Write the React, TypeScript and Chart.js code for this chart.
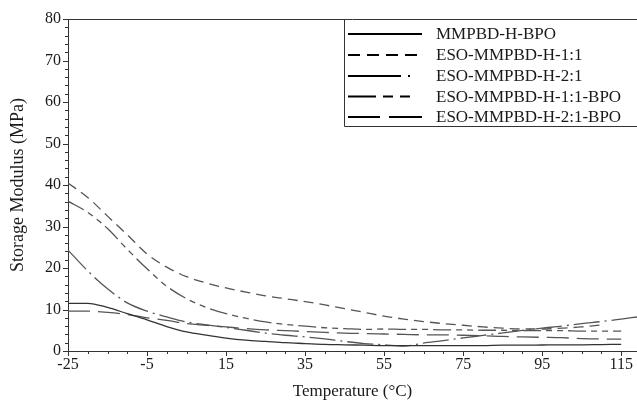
import React, { useEffect, useRef } from "react";
import { Chart, registerables } from "chart.js";

Chart.register(...registerables);

const FONT = "'Liberation Serif', 'Times New Roman', serif";
const INK = "#1a1a1a";

const temps = [-25, -20, -15, -10, -5, 0, 5, 10, 15, 20, 25, 30, 35, 40, 45, 50, 55, 60, 65, 70, 75, 80, 85, 90, 95, 100, 105, 110, 115, 119];

const mmpbdHBpo = [11.5, 11.5, 10.5, 9.0, 7.5, 5.9, 4.6, 3.8, 3.1, 2.6, 2.3, 2.0, 1.8, 1.6, 1.5, 1.4, 1.3, 1.3, 1.3, 1.3, 1.3, 1.3, 1.4, 1.4, 1.45, 1.5, 1.5, 1.55, 1.6, null];
const esoH11 = [40.5, 37.0, 32.5, 28.0, 23.4, 20.2, 17.9, 16.4, 15.2, 14.2, 13.3, 12.6, 11.9, 11.1, 10.2, 9.3, 8.4, 7.7, 7.1, 6.6, 6.2, 5.8, 5.5, 5.3, 5.3, 5.5, 5.8, 6.3, null, null];
const esoH21 = [24.3, 19.3, 15.0, 11.6, 9.6, 8.2, 7.0, 6.3, 5.7, 5.0, 4.3, 3.8, 3.4, 2.9, 2.3, 1.8, 1.5, 1.2, 1.9, 2.5, 3.15, 3.75, 4.35, 4.95, 5.5, 6.0, 6.6, 7.1, 7.7, 8.2];
const esoH11Bpo = [36.1, 33.4, 29.5, 24.5, 19.8, 15.6, 12.6, 10.5, 9.0, 7.9, 7.0, 6.4, 6.0, 5.6, 5.4, 5.2, 5.3, 5.2, 5.2, 5.1, 5.1, 5.0, 5.0, 4.9, 4.9, 4.9, 4.8, 4.8, 4.8, null];
const esoH21Bpo = [9.6, 9.6, 9.3, 8.8, 8.0, 7.4, 6.6, 6.2, 5.8, 5.4, 5.1, 4.9, 4.7, 4.5, 4.3, 4.2, 4.1, 4.0, 3.9, 3.9, 3.8, 3.7, 3.5, 3.4, 3.3, 3.2, 3.0, 2.9, 2.85, null];

const seriesNames = ["MMPBD-H-BPO", "ESO-MMPBD-H-1:1", "ESO-MMPBD-H-2:1", "ESO-MMPBD-H-1:1-BPO", "ESO-MMPBD-H-2:1-BPO"];
const seriesValues = [mmpbdHBpo, esoH11, esoH21, esoH11Bpo, esoH21Bpo];
const plotDashes = [[], [10, 6], [26, 5, 2, 5], [18, 5, 6, 5, 6, 5], [22, 8]];
const legendDashes = [[], [12, 7], [53, 7, 2, 40], [28, 7, 10, 7, 10, 40], [32, 9, 33, 40]];
const plotColors = ["#333333", "#555555", "#555555", "#555555", "#555555"];

const xTickLabels = [-25, -5, 15, 35, 55, 75, 95, 115];
const X_MIN = -25;
const X_MAX = 119;
const Y_MIN = 0;
const Y_MAX = 80;

const decorPlugin = {
  id: "decor",
  afterDraw(chart: any) {
    const { ctx, chartArea, scales } = chart;
    const { left, right, top, bottom } = chartArea;
    const x = scales.x;
    const y = scales.y;
    ctx.save();
    ctx.strokeStyle = "#333";
    ctx.lineWidth = 1;
    ctx.setLineDash([]);
    ctx.beginPath();
    ctx.moveTo(left, top + 0.5);
    ctx.lineTo(right, top + 0.5);
    ctx.stroke();
    for (let v = X_MIN; v <= X_MAX; v += 5) {
      const px = Math.round(x.getPixelForValue(v)) + 0.5;
      const len = (v - X_MIN) % 20 === 0 ? 5 : 3;
      ctx.beginPath();
      ctx.moveTo(px, bottom);
      ctx.lineTo(px, bottom + len);
      ctx.stroke();
    }
    for (let v = Y_MIN; v <= Y_MAX; v += 2) {
      const py = Math.round(y.getPixelForValue(v)) + 0.5;
      const len = v % 10 === 0 ? 5 : 3;
      ctx.beginPath();
      ctx.moveTo(left - len, py);
      ctx.lineTo(left, py);
      ctx.stroke();
    }
    const bx = 344.5;
    const by = 126.5;
    ctx.beginPath();
    ctx.moveTo(bx, top);
    ctx.lineTo(bx, by);
    ctx.lineTo(right, by);
    ctx.stroke();
    const rowY = [34, 55, 76, 96.5, 117];
    ctx.font = `17px ${FONT}`;
    ctx.textBaseline = "middle";
    ctx.textAlign = "left";
    seriesNames.forEach((name, i) => {
      const ry = rowY[i];
      ctx.strokeStyle = "#000";
      ctx.lineWidth = 2;
      ctx.setLineDash(legendDashes[i]);
      ctx.beginPath();
      ctx.moveTo(348, ry);
      ctx.lineTo(422, ry);
      ctx.stroke();
      ctx.setLineDash([]);
      ctx.fillStyle = INK;
      ctx.fillText(name, 436, ry + 1);
    });
    ctx.restore();
  },
};

export default function App() {
  const canvasRef = useRef<HTMLCanvasElement | null>(null);

  useEffect(() => {
    if (!canvasRef.current) return;
    const datasets = seriesNames.map((name, i) => ({
      label: name,
      data: temps.map((t, j) => ({ x: t, y: seriesValues[i][j] })),
      borderColor: plotColors[i],
      borderWidth: 1.3,
      borderDash: plotDashes[i],
      pointRadius: 0,
      fill: false,
      spanGaps: false,
      cubicInterpolationMode: "monotone" as const,
    }));
    const chart = new Chart(canvasRef.current, {
      type: "line",
      data: { datasets },
      plugins: [decorPlugin],
      options: {
        responsive: false,
        animation: false,
        layout: { padding: { top: 19, right: 0, left: 0, bottom: 0 } },
        plugins: { legend: { display: false }, tooltip: { enabled: false } },
        scales: {
          x: {
            type: "linear",
            min: X_MIN,
            max: X_MAX,
            afterBuildTicks: (scale: any) => {
              scale.ticks = xTickLabels.map((v) => ({ value: v }));
            },
            afterFit: (scale: any) => {
              scale.height = 52;
            },
            grid: { display: false, drawTicks: false },
            border: { display: true, color: "#333", width: 1 },
            ticks: {
              autoSkip: false,
              maxRotation: 0,
              padding: 4,
              color: INK,
              font: { family: FONT, size: 16 },
              callback: (v: any) => String(v),
            },
            title: {
              display: true,
              text: "Temperature (°C)",
              color: INK,
              font: { family: FONT, size: 17 },
              padding: { top: 0, bottom: 1 },
            },
          },
          y: {
            type: "linear",
            min: Y_MIN,
            max: Y_MAX,
            afterFit: (scale: any) => {
              scale.width = 68;
            },
            grid: { display: false, drawTicks: false },
            border: { display: true, color: "#333", width: 1 },
            ticks: {
              stepSize: 10,
              padding: 7,
              color: INK,
              font: { family: FONT, size: 16 },
            },
            title: {
              display: true,
              text: "Storage Modulus (MPa)",
              color: INK,
              font: { family: FONT, size: 18 },
              padding: { top: 7, bottom: 0 },
            },
          },
        },
      },
    });
    return () => chart.destroy();
  }, []);

  return (
    <div style={{ position: "absolute", left: 0, top: 0, width: 637, height: 403, background: "#fff" }}>
      <canvas ref={canvasRef} width={637} height={403} />
    </div>
  );
}
